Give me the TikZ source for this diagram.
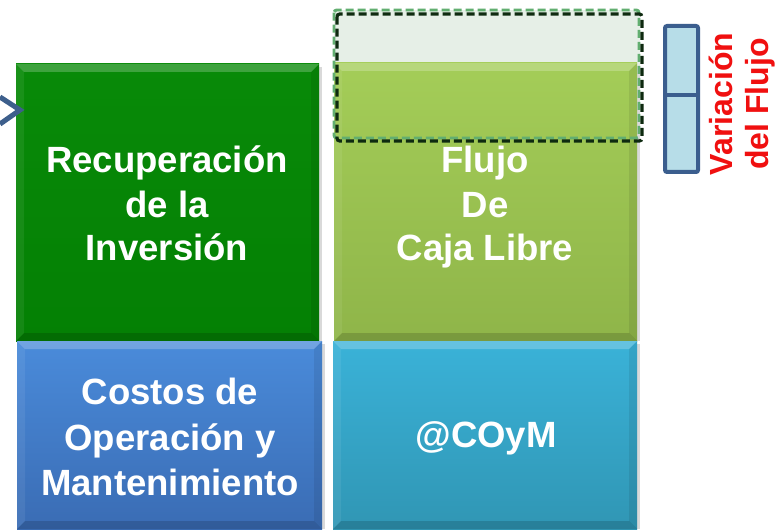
\documentclass[tikz,border=0pt]{standalone}
\usepackage{fontspec}
\setmainfont{Liberation Sans}
\definecolor{grnT}{HTML}{088A08}
\definecolor{grnB}{HTML}{048004}
\definecolor{limT}{HTML}{A4CD58}
\definecolor{limB}{HTML}{8FB549}
\definecolor{bluT}{HTML}{4A8BDA}
\definecolor{bluB}{HTML}{3A6CB4}
\definecolor{cyaT}{HTML}{3AB2D8}
\definecolor{cyaB}{HTML}{3096B4}
\definecolor{chev}{HTML}{3D5F8C}
\definecolor{brk}{HTML}{3B5E8E}
\definecolor{brkfill}{HTML}{B7DDE8}
\definecolor{dfill}{HTML}{E6EFE7}
\definecolor{dgreen}{HTML}{62AE70}
\definecolor{dblack}{HTML}{0E2A10}
\definecolor{redtxt}{HTML}{F01010}
\newcommand\bevbox[6]{%
  \fill[black!15] (#1+3,#2+3) rectangle (#3+3,#4);
  \shade[top color=#5, bottom color=#6] (#1,#2) rectangle (#3,#4);
  \fill[white,opacity=0.22] (#1,#2) -- (#3,#2) -- (#3-8,#2+8) -- (#1+8,#2+8) -- cycle;
  \fill[white,opacity=0.07] (#1,#2) -- (#1+8,#2+8) -- (#1+8,#4-8) -- (#1,#4) -- cycle;
  \fill[black,opacity=0.08] (#3,#2) -- (#3-8,#2+8) -- (#3-8,#4-8) -- (#3,#4) -- cycle;
  \fill[black,opacity=0.15] (#1,#4) -- (#3,#4) -- (#3-8,#4-8) -- (#1+8,#4-8) -- cycle;
}
\tikzset{
  boxtxt/.style={text=white,font=\bfseries\fontsize{27.4}{33}\selectfont,anchor=base,inner sep=0pt},
  sidetxt/.style={text=redtxt,font=\bfseries\fontsize{24}{27}\selectfont,anchor=base,inner sep=0pt,rotate=90},
  dashA/.style={draw=dgreen,line width=2.2pt,dash pattern=on 6pt off 3pt,rounded corners=2pt},
  dashB/.style={draw=dblack,line width=2.4pt,dash pattern=on 6pt off 3pt,rounded corners=2pt}
}
\begin{document}
\begin{tikzpicture}[x=0.75pt,y=-0.75pt]
\useasboundingbox[fill=white] (0,0) rectangle (778,531);
% dashed area fill
\fill[dfill] (334,10) rectangle (640,140);
% boxes
\bevbox{16}{64}{319}{341}{grnT}{grnB}
\bevbox{334}{63}{637}{341}{limT}{limB}
\bevbox{17}{341}{322}{529}{bluT}{bluB}
\bevbox{333}{341}{637}{529}{cyaT}{cyaB}
% dashed outlines
\draw[dashA] (334,10) rectangle (639,138);
\draw[dashB] (337,14) rectangle (642,141);
% chevron
\coordinate (ch1) at (0,97);
\coordinate (ch2) at (20,110);
\coordinate (ch3) at (0,124);
\draw[chev,line width=3.8pt,line join=miter] (ch1) -- (ch2) -- (ch3);
% bracket
\draw[brk,fill=brkfill,line width=3pt,rounded corners=1.5pt] (665,26) rectangle (698,172);
\coordinate (bl) at (665,95);
\coordinate (br) at (698,95);
\draw[brk,line width=3pt] (bl) -- (br);
% texts
\node[boxtxt] (r1) at (167,173) {Recuperación};
\node[boxtxt] (r2) at (167,217) {de la};
\node[boxtxt] (r3) at (167,260) {Inversión};
\node[boxtxt] (c1) at (170,404) {Costos de};
\node[boxtxt] (c2) at (170,450) {Operación y};
\node[boxtxt] (c3) at (170,495) {Mantenimiento};
\node[boxtxt] (f1) at (485,173) {Flujo};
\node[boxtxt] (f2) at (485,217) {De};
\node[boxtxt] (f3) at (485,260) {Caja Libre};
\node[boxtxt] (m1) at (486,447) {@COyM};
\node[sidetxt] (v1) at (732,104) {Variación};
\node[sidetxt] (v2) at (768,104) {del Flujo};
\end{tikzpicture}
\end{document}
